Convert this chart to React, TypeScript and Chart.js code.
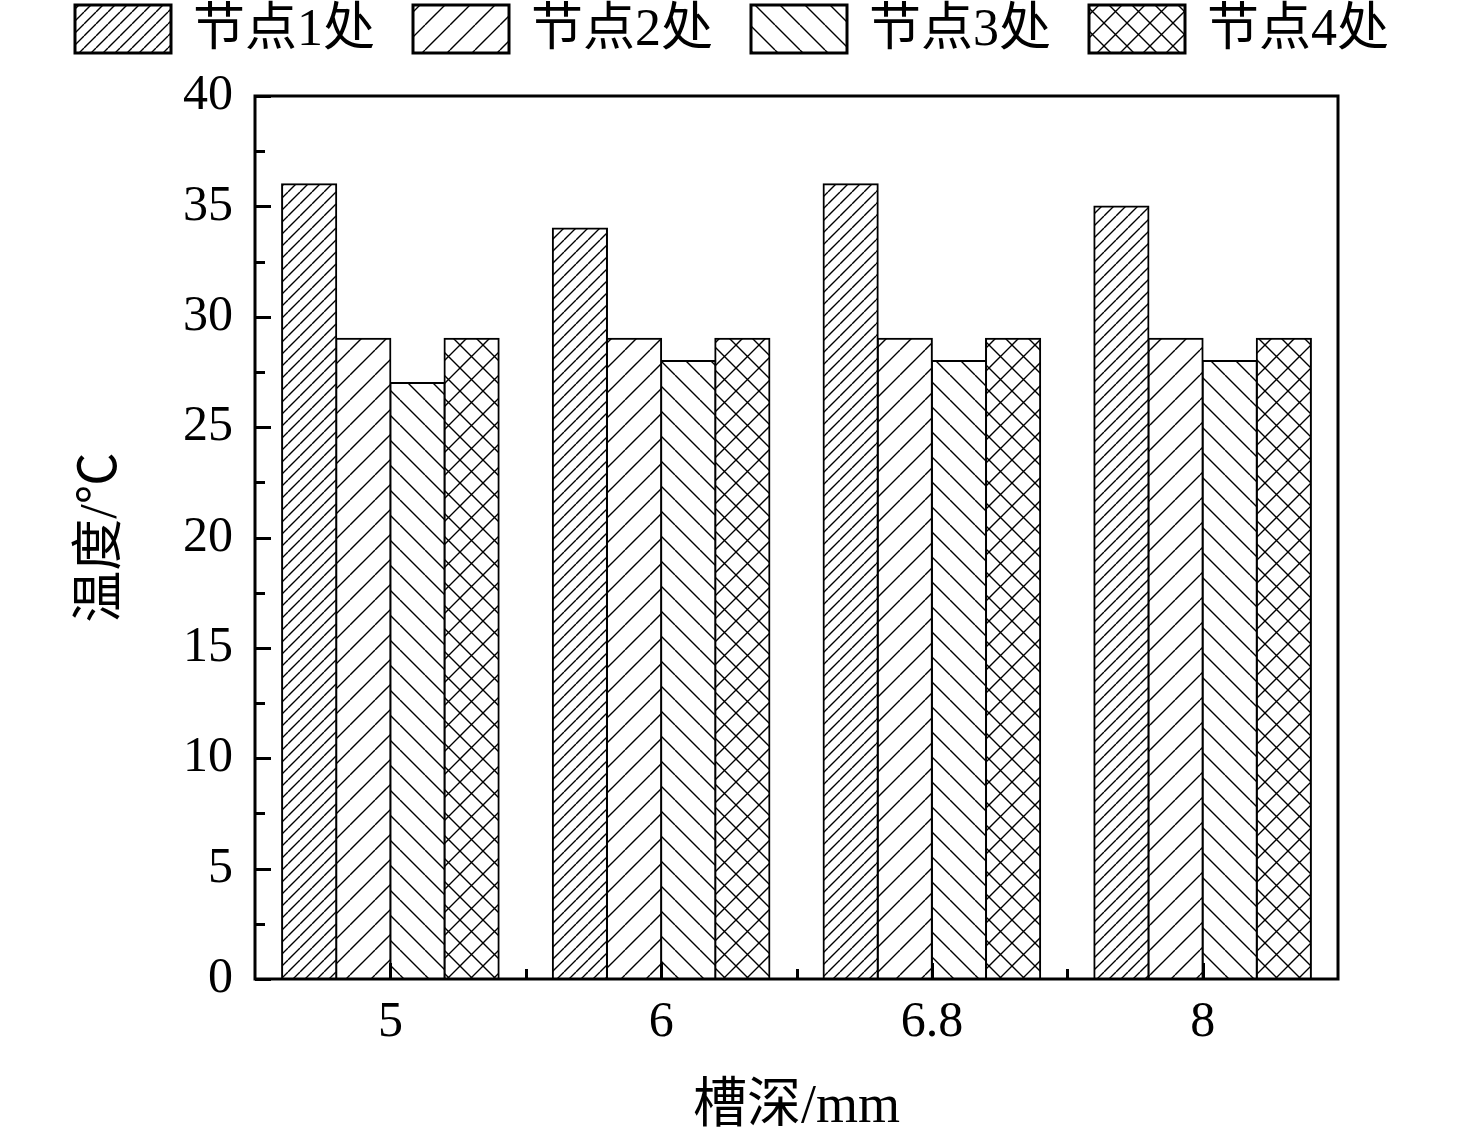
import React, { useEffect, useRef } from "react";
import { Chart, registerables } from "chart.js";
Chart.register(...registerables);

const categories = ["5", "6", "6.8", "8"];
const seriesNames = ["节点1处", "节点2处", "节点3处", "节点4处"];
const node1 = [36, 34, 36, 35];
const node2 = [29, 29, 29, 29];
const node3 = [27, 28, 28, 28];
const node4 = [29, 29, 29, 29];
const yMin = 0;
const yMax = 40;
const yStep = 5;
const xTitle = "槽深/mm";
const yTitle = "温度/℃";

const FONT = "'Liberation Serif', 'Noto Sans CJK SC', serif";

type Kind = "fwd" | "back" | "cross";
function makeHatch(kind: Kind, size: number, lw: number): CanvasPattern {
  const c = document.createElement("canvas");
  c.width = size;
  c.height = size;
  const g = c.getContext("2d")!;
  g.fillStyle = "#fff";
  g.fillRect(0, 0, size, size);
  g.strokeStyle = "#000";
  g.lineWidth = lw;
  g.beginPath();
  if (kind === "fwd" || kind === "cross") {
    for (const o of [-size, 0, size]) {
      g.moveTo(o, size);
      g.lineTo(o + size, 0);
    }
  }
  if (kind === "back" || kind === "cross") {
    for (const o of [-size, 0, size]) {
      g.moveTo(o, 0);
      g.lineTo(o + size, size);
    }
  }
  g.stroke();
  return g.createPattern(c, "repeat")!;
}

export default function App() {
  const ref = useRef<HTMLCanvasElement | null>(null);
  useEffect(() => {
    const canvas = ref.current!;
    const patterns = [
      makeHatch("fwd", 12, 1.4),
      makeHatch("fwd", 25, 1.4),
      makeHatch("back", 25, 1.4),
      makeHatch("cross", 23, 1.4),
    ];
    const seriesData = [node1, node2, node3, node4];

    const decor = {
      id: "decor",
      afterDatasetsDraw(chart: any) {
        const ctx = chart.ctx as CanvasRenderingContext2D;
        const a = chart.chartArea;
        const xs = chart.scales.x;
        const ys = chart.scales.y;
        ctx.save();
        ctx.strokeStyle = "#000";
        ctx.lineWidth = 3;
        // y ticks (inward)
        for (let v = yMin; v <= yMax + 1e-9; v += yStep / 2) {
          const y = Math.round(ys.getPixelForValue(v)) + 0.5;
          const major = Math.abs(v / yStep - Math.round(v / yStep)) < 1e-6;
          const len = major ? 16 : 10;
          ctx.beginPath();
          ctx.moveTo(a.left, y);
          ctx.lineTo(a.left + len, y);
          ctx.stroke();
        }
        // x ticks
        const n = categories.length;
        const cw = (a.right - a.left) / n;
        for (let i = 0; i < n; i++) {
          const x = Math.round(xs.getPixelForValue(i)) + 0.5;
          ctx.beginPath();
          ctx.moveTo(x, a.bottom);
          ctx.lineTo(x, a.bottom - 16);
          ctx.stroke();
        }
        for (let i = 1; i < n; i++) {
          const x = Math.round(a.left + i * cw) + 0.5;
          ctx.beginPath();
          ctx.moveTo(x, a.bottom);
          ctx.lineTo(x, a.bottom - 10);
          ctx.stroke();
        }
        // frame
        ctx.lineWidth = 3;
        ctx.strokeRect(a.left, a.top, a.right - a.left, a.bottom - a.top);

        // titles
        ctx.fillStyle = "#000";
        ctx.font = `54px ${FONT}`;
        ctx.textAlign = "center";
        ctx.textBaseline = "middle";
        ctx.fillText(xTitle, (a.left + a.right) / 2 + 0, 1108);
        ctx.save();
        ctx.translate(102, (a.top + a.bottom) / 2);
        ctx.rotate(-Math.PI / 2);
        ctx.font = `52px ${FONT}`;
        ctx.fillText(yTitle, 0, 0);
        ctx.restore();

        // legend
        const startX = 75;
        const step = 338;
        const bw = 96;
        const bh = 48;
        const by = 5;
        ctx.font = `52px ${FONT}`;
        ctx.textAlign = "left";
        ctx.textBaseline = "middle";
        for (let i = 0; i < seriesNames.length; i++) {
          const bx = startX + i * step;
          ctx.fillStyle = patterns[i];
          ctx.fillRect(bx, by, bw, bh);
          ctx.lineWidth = 3;
          ctx.strokeRect(bx, by, bw, bh);
          ctx.fillStyle = "#000";
          ctx.fillText(seriesNames[i], bx + bw + 22, by + bh / 2 + 2);
        }
        ctx.restore();
      },
    };

    const chart = new Chart(canvas, {
      type: "bar",
      data: {
        labels: categories,
        datasets: seriesNames.map((name, i) => ({
          label: name,
          data: seriesData[i],
          backgroundColor: patterns[i] as any,
          borderColor: "#000",
          borderWidth: 2,
          inflateAmount: 1,
          categoryPercentage: 0.8,
          barPercentage: 1,
        })),
      },
      options: {
        animation: false,
        responsive: false,
        devicePixelRatio: 1,
        layout: { padding: { left: 0, top: 96, right: 138, bottom: 0 } },
        plugins: { legend: { display: false }, tooltip: { enabled: false } },
        scales: {
          x: {
            grid: { display: false, drawTicks: false },
            border: { display: false },
            ticks: { color: "#000", font: { family: FONT, size: 50 }, padding: 14 },
            afterFit: (s: any) => {
              s.height = 165;
            },
          },
          y: {
            min: yMin,
            max: yMax,
            grid: { display: false, drawTicks: false },
            border: { display: false },
            ticks: {
              stepSize: yStep,
              color: "#000",
              font: { family: FONT, size: 50 },
              padding: 22,
            },
            afterFit: (s: any) => {
              s.width = 255;
            },
          },
        },
      },
      plugins: [decor],
    });
    return () => chart.destroy();
  }, []);
  return (
    <canvas
      ref={ref}
      width={1476}
      height={1144}
      style={{ position: "absolute", left: 0, top: 0, display: "block" }}
    />
  );
}
